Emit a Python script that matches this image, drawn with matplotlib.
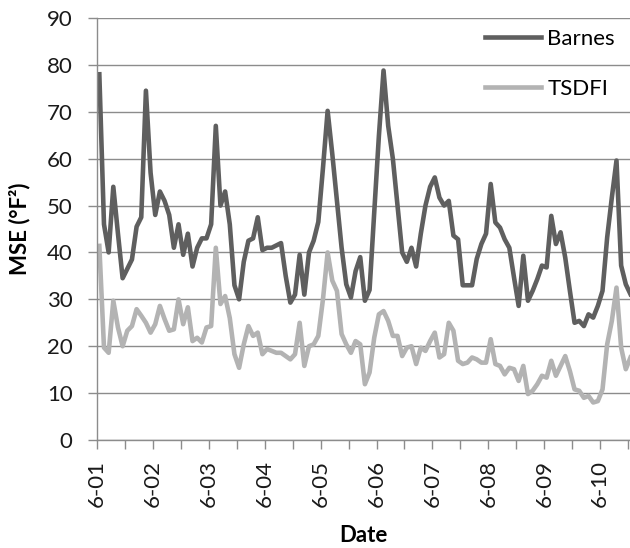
import matplotlib

matplotlib.use("Agg")

import matplotlib.pyplot as plt
import numpy as np


# -------------------------
# data
# -------------------------

barnes = [
    78, 46, 40, 54, 44, 34.5, 36.5, 38.5, 45.5, 47.5, 74.5, 57,
    48, 53, 51, 48, 41, 46, 39.5, 44, 37, 41, 43, 43,
    46, 67, 50, 53, 46, 33, 30, 38, 42.5, 43, 47.5, 40.5,
    41, 41, 41.5, 42, 35, 29.3, 31, 39.5, 31, 40, 42.5, 46.5,
    58, 70.2, 61, 51, 41, 33.2, 30.4, 36, 39, 29.7, 32, 48.5,
    64.8, 78.8, 67, 60, 50, 40, 38, 41, 37, 44, 50, 54,
    56, 51.7, 50, 51, 43.6, 42.8, 33, 33, 33, 38.6, 41.8, 44,
    54.6, 46.4, 45.3, 42.8, 41, 34.7, 28.6, 39.3, 29.7, 31.8, 34.3, 37.2,
    36.8, 47.8, 41.8, 44.3, 38.9, 31.8, 25, 25.4, 24.3, 26.8, 26.1, 28.6,
    31.8, 43.2, 51.7, 59.6, 37.2, 33.2, 31.1,
]

tsdfi = [
    41.4, 19.7, 18.6, 29.7, 24, 20, 23.3, 24.3, 27.9, 26.5, 25, 22.9,
    24.7, 28.6, 25.8, 23.3, 23.6, 30, 24.7, 28.3, 21.1, 21.8, 20.8, 24,
    24.3, 41, 29, 30.7, 26, 18.3, 15.4, 20.4, 24.3, 22.2, 22.9, 18.3,
    19.4, 19, 18.6, 18.6, 17.9, 17.2, 18.3, 25, 15.8, 20, 20.4, 22.2,
    30, 40, 34, 31.8, 22.6, 20.4, 18.6, 21.1, 20.4, 11.9, 14.4, 21.8,
    26.8, 27.5, 25.4, 22.2, 22.2, 17.9, 19.7, 20, 16.2, 19.7, 19, 21.1,
    22.9, 17.6, 18.3, 25, 23.3, 16.9, 16.2, 16.5, 17.6, 17.2, 16.5, 16.5,
    21.5, 16.2, 15.8, 14, 15.4, 15.1, 12.6, 15.8, 9.8, 10.5, 11.9, 13.7,
    13.3, 16.9, 13.7, 15.8, 17.9, 14.7, 10.8, 10.5, 9, 9.4, 8, 8.3,
    10.8, 20.4, 25.4, 32.5, 19.7, 15.1, 17.6,
]

date_labels = [
    "6-01", "6-02", "6-03", "6-04", "6-05",
    "6-06", "6-07", "6-08", "6-09", "6-10",
]

points_per_label = 12

# -------------------------
# style
# -------------------------

plt.rcParams["font.family"] = ["Lato", "DejaVu Sans"]

axis_grey = "#8c8c8c"
font_size = 16

fig = plt.figure(
    figsize=(6.3, 5.48),
    dpi=100
)

ax = fig.add_axes(
    [97 / 630, 108 / 548, 533 / 630, 422 / 548]
)

x = np.arange(len(barnes)) + 0.5

ax.plot(
    x,
    barnes,
    color="#5f5f5f",
    linewidth=3.3,
    solid_joinstyle="round",
    label="Barnes"
)

ax.plot(
    x,
    tsdfi,
    color="#b3b3b3",
    linewidth=3.3,
    solid_joinstyle="round",
    label="TSDFI"
)

# -------------------------
# axes
# -------------------------

ax.set_xlim(0, 114.4)
ax.set_ylim(0, 90)

ax.set_yticks(range(0, 91, 10))

tick_pos = np.arange(0, 115, points_per_label // 2)
ax.set_xticks(tick_pos)
ax.set_xticklabels(
    [
        date_labels[t // points_per_label]
        if t % points_per_label == 0
        else ""
        for t in tick_pos
    ],
    rotation=90
)

ax.grid(
    axis="y",
    color=axis_grey,
    linewidth=1.0
)
ax.set_axisbelow(True)

for side in ["top", "right"]:
    ax.spines[side].set_visible(False)

for side in ["left", "bottom"]:
    ax.spines[side].set_color(axis_grey)
    ax.spines[side].set_linewidth(1.0)

ax.tick_params(
    axis="both",
    direction="out",
    length=6.5,
    width=1.0,
    color=axis_grey,
    labelsize=font_size,
    labelcolor="#1a1a1a"
)
ax.tick_params(axis="y", pad=11)
ax.tick_params(axis="x", pad=8)

ax.set_xlabel(
    "Date",
    fontsize=font_size,
    fontweight="bold",
    labelpad=13
)

ax.set_ylabel(
    "MSE (°F²)",
    fontsize=font_size,
    fontweight="bold",
    labelpad=12
)

ax.legend(
    loc="upper left",
    bbox_to_anchor=(0.728, 0.975),
    frameon=False,
    fontsize=font_size,
    handlelength=2.5,
    handletextpad=0.3,
    labelspacing=1.38,
    borderpad=0,
    borderaxespad=0
)

fig.savefig("out.png", dpi=100)
